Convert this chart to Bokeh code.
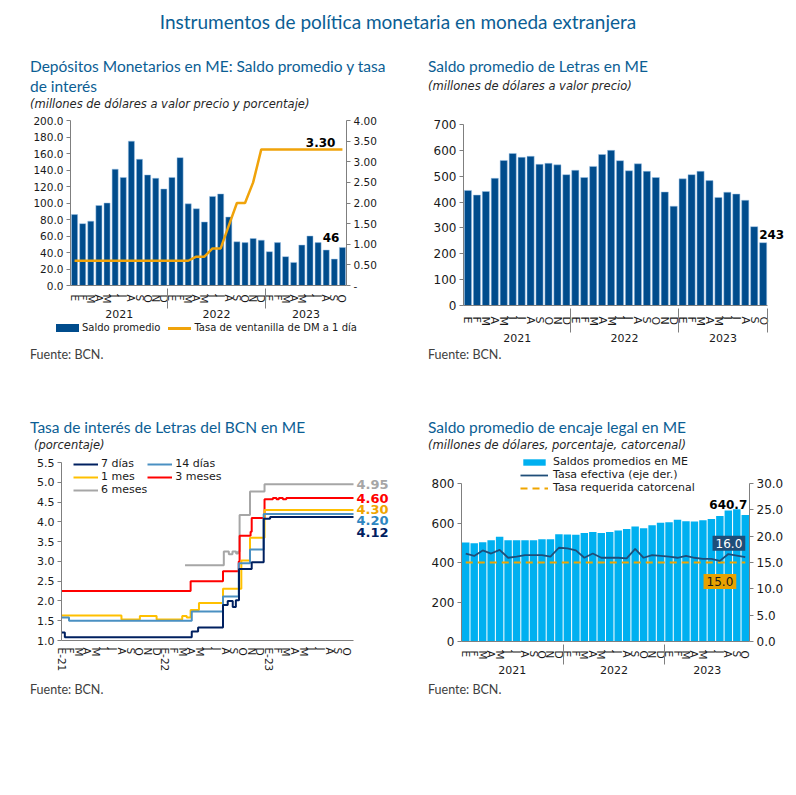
import pandas as pd
from bokeh.plotting import figure
from bokeh.models import (FactorRange, Range1d, LinearAxis, FixedTicker, Legend,
                          LegendItem, LabelSet, Div, ColumnDataSource, NumeralTickFormatter)
from bokeh.layouts import column, row
from bokeh.embed import file_html
from bokeh.resources import INLINE
from bokeh.core.properties import value

# ---------------- data ----------------
years = ["2021", "2022", "2023"]
months_per_year = [12, 12, 10]
month_letters = ["E", "F", "M", "A", "M", "J", "J", "A", "S", "O", "N", "D"]

# Panel 1: Depósitos monetarios en ME
saldo_dm = [86, 75, 78, 97, 100, 141, 131, 175, 153, 134, 130, 117,
            131, 155, 99, 93, 77, 108, 111, 83, 53, 52, 57, 55,
            41, 52, 35, 28, 49, 60, 52, 43, 32, 46]
tasa_ventanilla = [0.60, 0.60, 0.60, 0.60, 0.60, 0.60, 0.60, 0.60, 0.60, 0.60, 0.60, 0.60,
                   0.60, 0.60, 0.60, 0.70, 0.70, 0.90, 0.90, 1.45, 2.00, 2.00, 2.50, 3.30,
                   3.30, 3.30, 3.30, 3.30, 3.30, 3.30, 3.30, 3.30, 3.30, 3.30]
p1_left_ticks = [0, 20, 40, 60, 80, 100, 120, 140, 160, 180, 200]
p1_right_ticks = [0, 0.5, 1.0, 1.5, 2.0, 2.5, 3.0, 3.5, 4.0]
p1_legend_labels = ["Saldo promedio", "Tasa de ventanilla de DM a 1 día"]

# Panel 2: Saldo promedio de Letras en ME
letras = [445, 427, 441, 492, 561, 588, 573, 577, 546, 550, 544, 506,
          523, 495, 538, 584, 600, 560, 521, 548, 519, 495, 439, 384,
          490, 506, 519, 483, 418, 438, 431, 407, 305, 243]
p2_ticks = [0, 100, 200, 300, 400, 500, 600, 700]

# Panel 3: Tasa de interés de Letras (step series: change dates and values)
d7_dates = ["2021-01-01", "2021-01-13", "2022-04-03", "2022-04-25", "2022-07-22", "2022-08-08",
            "2022-08-26", "2022-09-06", "2022-09-17", "2022-11-01", "2022-12-13", "2023-01-05"]
d7_vals = [1.20, 1.08, 1.23, 1.33, 1.90, 2.00, 1.85, 2.02, 2.81, 2.98, 4.08, 4.12]
d14_dates = ["2021-01-01", "2021-01-28", "2022-04-03", "2022-07-22", "2022-09-16",
             "2022-10-26", "2022-12-13"]
d14_vals = [1.58, 1.50, 1.73, 2.11, 2.95, 3.30, 4.20]
m1_dates = ["2021-01-01", "2021-07-30", "2021-10-03", "2021-12-01", "2022-02-28", "2022-03-16",
            "2022-03-30", "2022-04-28", "2022-07-22", "2022-09-25", "2022-10-26", "2022-12-16"]
m1_vals = [1.63, 1.53, 1.62, 1.53, 1.62, 1.58, 1.77, 1.95, 2.31, 3.02, 3.60, 4.30]
m3_dates = ["2021-01-01", "2022-03-30", "2022-07-22", "2022-09-16", "2022-09-19", "2022-10-28",
            "2022-11-01", "2022-12-16", "2023-01-15", "2023-01-28", "2023-02-05", "2023-02-18",
            "2023-03-01"]
m3_vals = [2.25, 2.50, 2.75, 3.00, 3.65, 3.75, 4.10, 4.57, 4.60, 4.57, 4.60, 4.57, 4.60]
m6_dates = ["2022-03-10", "2022-07-25", "2022-08-12", "2022-08-25", "2022-09-07", "2022-09-14",
            "2022-09-19", "2022-10-26", "2022-12-16"]
m6_vals = [2.90, 3.25, 3.18, 3.25, 3.20, 3.25, 4.17, 4.77, 4.95]
p3_end_date = "2023-10-25"
p3_tick_labels = ["E-21", "F", "M", "A", "M", "J", "J", "A", "S", "O", "N", "D",
                  "E-22", "F", "M", "A", "M", "J", "J", "A", "S", "O", "N", "D",
                  "E-23", "F", "M", "A", "M", "J", "J", "A", "S", "O"]
p3_ticks = [1.0, 1.5, 2.0, 2.5, 3.0, 3.5, 4.0, 4.5, 5.0, 5.5]
p3_last_labels = ["4.95", "4.60", "4.30", "4.20", "4.12"]

# Panel 4: Encaje legal
encaje = [501, 498, 503, 513, 530, 513, 513, 513, 513, 518, 518, 543,
          542, 540, 549, 555, 549, 555, 562, 570, 582, 574, 589, 601,
          604, 616, 609, 608, 614, 620, 636, 663, 670, 640.7]
tasa_efectiva = [16.7, 16.25, 17.3, 16.7, 17.4, 15.9, 16.1, 16.4, 16.4, 16.4, 16.1, 17.8,
                 17.7, 17.3, 15.9, 16.7, 15.9, 15.9, 15.9, 15.8, 17.6, 15.9, 16.4, 16.25,
                 16.1, 15.9, 16.25, 15.9, 15.7, 15.7, 15.3, 16.6, 16.3, 16.0]
tasa_requerida = [15.0, 15.0, 15.0, 15.0, 15.0, 15.0, 15.0, 15.0, 15.0, 15.0, 15.0, 15.0,
                  15.0, 15.0, 15.0, 15.0, 15.0, 15.0, 15.0, 15.0, 15.0, 15.0, 15.0, 15.0,
                  15.0, 15.0, 15.0, 15.0, 15.0, 15.0, 15.0, 15.0, 15.0, 15.0]
p4_left_ticks = [0, 200, 400, 600, 800]
p4_right_ticks = [0, 5, 10, 15, 20, 25, 30]

# ---------------- styles ----------------
TITLE_C = "#0B5E94"
NAVY = "#004C8C"
GOLD = "#F0A30A"
AX = "#7F7F7F"
TXT = "#1A1A1A"
FONT = "DejaVu Sans"
ZW = "\u200b"

# unique nested factors (zero-width space keeps repeated month letters distinct)
factors = []
for y, n in zip(years, months_per_year):
    seen = {}
    for m in month_letters[:n]:
        k = seen.get(m, 0)
        seen[m] = k + 1
        factors.append((y, m + ZW * k))
n_months = len(factors)


def month_index(d):
    t = pd.Timestamp(d)
    return (t.year - 2021) * 12 + (t.month - 1) + (t.day - 1) / t.days_in_month


def base_fig(width, height, x_range, y_range, left, right, top, bottom):
    p = figure(width=width, height=height, x_range=x_range, y_range=y_range, title=None,
               toolbar_location=None, output_backend="svg",
               min_border_left=left, min_border_right=right,
               min_border_top=top, min_border_bottom=bottom,
               outline_line_color=None, background_fill_color="white", margin=(0, 0, 0, 0))
    p.xgrid.grid_line_color = None
    p.ygrid.grid_line_color = None
    return p


def style_axis(ax, size="11px"):
    ax.axis_line_color = AX
    ax.major_tick_line_color = AX
    ax.minor_tick_line_color = None
    ax.major_tick_out = 4
    ax.major_tick_in = 0
    ax.major_label_standoff = 3
    ax.major_label_text_font = FONT
    ax.major_label_text_font_size = size
    ax.major_label_text_color = TXT


def style_cat_axis(ax, size="10.5px", standoff=3):
    ax.axis_line_color = AX
    ax.major_tick_line_color = None
    ax.minor_tick_line_color = None
    ax.major_label_orientation = "vertical"
    ax.major_label_text_font = FONT
    ax.major_label_text_font_size = size
    ax.major_label_text_color = TXT
    ax.major_label_standoff = standoff
    ax.group_text_font = FONT
    ax.group_text_font_size = "11px"
    ax.group_text_font_style = "normal"
    ax.group_text_color = TXT
    ax.group_label_orientation = "horizontal"
    ax.separator_line_color = AX
    ax.separator_line_width = 1


def title_div(lines, sub, height, pad_top, pad_left, sub_indent=0, sub_gap=0):
    html = ('<div style="width:388px;padding-top:%dpx;padding-left:%dpx;">' % (pad_top, pad_left))
    for ln in lines:
        html += ('<div style="font-family:Lato;font-size:15.5px;line-height:20px;color:%s;'
                 'white-space:nowrap;">%s</div>' % (TITLE_C, ln))
    html += ('<div style="font-family:\'DejaVu Sans\';font-style:italic;font-size:11.5px;'
             'line-height:16px;color:#262626;white-space:nowrap;padding-left:%dpx;'
             'margin-top:%dpx;">%s</div></div>' % (sub_indent, sub_gap, sub))
    return Div(text=html, width=390, height=height, margin=(0, 0, 0, 0))


def source_div(height, pad_top, pad_left):
    html = ('<div style="padding-top:%dpx;padding-left:%dpx;font-family:Lato;font-size:12.5px;'
            'line-height:16px;color:#404040;">Fuente: BCN.</div>' % (pad_top, pad_left))
    return Div(text=html, width=390, height=height, margin=(0, 0, 0, 0))


def cat_range(extra=()):
    return FactorRange(factors=factors + list(extra), range_padding=0, group_padding=0,
                       factor_padding=0)


# ---------------- Panel 1 ----------------
p1 = base_fig(390, 208, cat_range(), Range1d(0, 200), 62, 52, 8, 35)
p1.extra_y_ranges = {"rate": Range1d(0, 4)}
p1.vbar(x=factors, top=saldo_dm, width=0.75, fill_color=NAVY, line_color="#9DC3E6",
        line_width=0.5)
p1.line(x=factors, y=tasa_ventanilla, y_range_name="rate", line_color=GOLD, line_width=2.5)
style_cat_axis(p1.xaxis[0], "10.5px", 3)
style_axis(p1.yaxis[0], "10.5px")
p1.yaxis[0].ticker = FixedTicker(ticks=p1_left_ticks)
p1.yaxis[0].formatter = NumeralTickFormatter(format="0.0")
r1 = LinearAxis(y_range_name="rate", ticker=FixedTicker(ticks=p1_right_ticks),
                formatter=NumeralTickFormatter(format="0.00"), major_label_overrides={0: "-"})
style_axis(r1, "10.5px")
p1.add_layout(r1, "right")
lab1 = ColumnDataSource(dict(x=[factors[-1]], y=[saldo_dm[-1]], t=[str(saldo_dm[-1])]))
p1.add_layout(LabelSet(x="x", y="y", text="t", source=lab1, text_align="right", x_offset=-3,
                       y_offset=6, text_baseline="bottom", text_font=value(FONT),
                       text_font_style="bold", text_font_size="12px", text_color="black"))
lab1b = ColumnDataSource(dict(x=[factors[-1]], y=[tasa_ventanilla[-1]],
                              t=["%.2f" % tasa_ventanilla[-1]]))
p1.add_layout(LabelSet(x="x", y="y", y_range_name="rate", text="t", source=lab1b,
                       text_align="right", x_offset=-7, y_offset=2, text_baseline="bottom",
                       text_font=value(FONT), text_font_style="bold", text_font_size="12px",
                       text_color="black"))

legend1 = Div(text=(
    '<div style="display:flex;align-items:center;padding-left:48px;padding-top:2px;'
    'font-family:\'DejaVu Sans\';font-size:10px;line-height:12px;color:%s;white-space:nowrap;">'
    '<span style="display:inline-block;width:23px;height:8px;background:%s;margin-right:3px;">'
    '</span><span>%s</span>'
    '<span style="display:inline-block;width:23px;height:3px;background:%s;'
    'margin:0 3px 0 8px;"></span><span>%s</span></div>'
    % (TXT, NAVY, p1_legend_labels[0], GOLD, p1_legend_labels[1])),
    width=390, height=16, margin=(0, 0, 0, 0))

cell1 = column(title_div(["Depósitos Monetarios en ME: Saldo promedio y tasa", "de interés"],
                         "(millones de dólares a valor precio y porcentaje)", 64, 8, 22),
               p1, legend1, source_div(69, 11, 22), spacing=0)

# ---------------- Panel 2 ----------------
p2_pad = [(ZW, ZW), (ZW, ZW + ZW)]
p2 = base_fig(390, 229, cat_range(p2_pad), Range1d(0, 700), 65, 3, 6, 42)
p2.vbar(x=factors, top=letras, width=0.8, fill_color=NAVY, line_color="#9DC3E6", line_width=0.5)
style_cat_axis(p2.xaxis[0], "11px", 5)
p2.xaxis[0].bounds = (0, n_months + 0.001)
style_axis(p2.yaxis[0], "12px")
p2.yaxis[0].ticker = FixedTicker(ticks=p2_ticks)
p2.yaxis[0].formatter = NumeralTickFormatter(format="0")
lab2 = ColumnDataSource(dict(x=[factors[-1]], y=[letras[-1]], t=[str(letras[-1])]))
p2.add_layout(LabelSet(x="x", y="y", text="t", source=lab2, text_align="left", x_offset=-4,
                       y_offset=4, text_baseline="bottom", text_font=value(FONT),
                       text_font_style="bold", text_font_size="12px", text_color="black"))
cell2 = column(title_div(["Saldo promedio de Letras en ME"], "(millones de dólares a valor precio)",
                         70, 8, 30, 0, 2),
               p2, source_div(58, 0, 30), spacing=0)

# ---------------- Panel 3 ----------------
p3_end = month_index(p3_end_date)
p3_view_end = p3_end * 332.0 / 292.0       # frame extends right so end labels are not clipped
p3_view_top = 1.0 + 4.5 * 187.0 / 178.0     # frame extends up so the legend is not clipped
p3 = base_fig(390, 222, Range1d(0, p3_view_end), Range1d(1.0, p3_view_top), 53, 5, 0, 35)
series3 = [("7 días", d7_dates, d7_vals, "#002060"),
           ("14 días", d14_dates, d14_vals, "#4A90C2"),
           ("1 mes", m1_dates, m1_vals, "#FFC000"),
           ("3 meses", m3_dates, m3_vals, "#FF0000"),
           ("6 meses", m6_dates, m6_vals, "#A6A6A6")]
rend3 = {}
for name, dts, vals, col in reversed(series3):
    xs = [month_index(d) for d in dts] + [p3_end]
    ys = list(vals) + [vals[-1]]
    rend3[name] = p3.step(x=xs, y=ys, mode="after", line_color=col, line_width=2)
style_axis(p3.yaxis[0], "11px")
p3.yaxis[0].ticker = FixedTicker(ticks=p3_ticks)
p3.yaxis[0].formatter = NumeralTickFormatter(format="0.0")
p3.yaxis[0].bounds = (1.0, 5.5)
xa3 = p3.xaxis[0]
style_axis(xa3, "10.5px")
xa3.bounds = (0, p3_end)
xa3.ticker = FixedTicker(ticks=list(range(len(p3_tick_labels))))
xa3.major_label_overrides = {i: t for i, t in enumerate(p3_tick_labels)}
xa3.major_label_orientation = "vertical"
xa3.major_tick_line_color = None
xa3.major_label_standoff = 3
legend_order = ["7 días", "1 mes", "6 meses", "14 días", "3 meses"]
leg3 = Legend(items=[LegendItem(label=n, renderers=[rend3[n]]) for n in legend_order],
              location=(12, 144), ncols=2, border_line_color=None, background_fill_alpha=0,
              label_text_font=FONT, label_text_font_size="11px", label_text_color=TXT,
              glyph_width=25, glyph_height=10, label_height=13, label_width=46,
              padding=1, spacing=0, margin=0, label_standoff=3)
p3.add_layout(leg3, "center")
lab3 = ColumnDataSource(dict(x=[p3_end] * 5,
                             y=[m6_vals[-1], m3_vals[-1], m1_vals[-1], d14_vals[-1], d7_vals[-1]],
                             t=p3_last_labels, yo=[0, 0, 0, -7, -15],
                             c=["#A6A6A6", "#FF0000", "#F0A500", "#2E86C1", "#002060"]))
p3.add_layout(LabelSet(x="x", y="y", text="t", source=lab3, x_offset=3, y_offset="yo",
                       text_align="left", text_baseline="middle", text_font=value(FONT),
                       text_font_style="bold", text_font_size="13px", text_color="c"))
cell3 = column(title_div(["Tasa de interés de Letras del BCN en ME"], "(porcentaje)",
                         48, 12, 22, 4),
               p3, source_div(30, 7, 22), spacing=0)

# ---------------- Panel 4 ----------------
p4_k = 186.0 / 158.0   # frame extends above the axis top to hold the legend
p4 = base_fig(390, 224, cat_range(), Range1d(0, 800 * p4_k), 63, 39, 2, 36)
p4.extra_y_ranges = {"rate": Range1d(0, 30 * p4_k)}
bars4 = p4.vbar(x=factors, top=encaje, width=0.88, fill_color="#00B0F0", line_color=None)
req4 = p4.line(x=factors, y=tasa_requerida, y_range_name="rate", line_color="#F0A500",
               line_width=2, line_dash="7 5")
ef4 = p4.line(x=factors, y=tasa_efectiva, y_range_name="rate", line_color="#1F4E79",
              line_width=1.8)
style_cat_axis(p4.xaxis[0], "10.5px", 3)
style_axis(p4.yaxis[0], "12px")
p4.yaxis[0].ticker = FixedTicker(ticks=p4_left_ticks)
p4.yaxis[0].formatter = NumeralTickFormatter(format="0")
p4.yaxis[0].bounds = (0, 800)
r4 = LinearAxis(y_range_name="rate", ticker=FixedTicker(ticks=p4_right_ticks),
                formatter=NumeralTickFormatter(format="0.0"), bounds=(0, 30))
style_axis(r4, "12px")
p4.add_layout(r4, "right")
lab4 = ColumnDataSource(dict(x=[factors[-1]], y=[encaje[-1]], t=["%.1f" % encaje[-1]]))
p4.add_layout(LabelSet(x="x", y="y", text="t", source=lab4, text_align="right", x_offset=2,
                       y_offset=6, text_baseline="bottom", text_font=value(FONT),
                       text_font_style="bold", text_font_size="12px", text_color="black"))
p4.text(x=[factors[-1]], y=[tasa_efectiva[-1]], text=["%.1f" % tasa_efectiva[-1]],
        y_range_name="rate", text_align="right", text_baseline="middle", x_offset=0, y_offset=-14,
        text_font=value(FONT), text_font_size=value("12px"), text_color="white",
        background_fill_color="#1F4E79", padding=3)
p4.text(x=[factors[-1]], y=[tasa_requerida[-1]], text=["%.1f" % tasa_requerida[-1]],
        y_range_name="rate", text_align="right", text_baseline="middle", x_offset=-9, y_offset=19,
        text_font=value(FONT), text_font_size=value("12px"), text_color="#1A1A1A",
        background_fill_color="#E8A200", padding=3)
leg4 = Legend(items=[LegendItem(label="Saldos promedios en ME", renderers=[bars4]),
                     LegendItem(label="Tasa efectiva (eje der.)", renderers=[ef4]),
                     LegendItem(label="Tasa requerida catorcenal", renderers=[req4])],
              location=(59, 147), border_line_color=None, background_fill_alpha=0,
              label_text_font=FONT, label_text_font_size="11px", label_text_color=TXT,
              glyph_width=28, glyph_height=8, label_height=13, padding=0, spacing=0, margin=0,
              label_standoff=5)
p4.add_layout(leg4, "center")
cell4 = column(title_div(["Saldo promedio de encaje legal en ME"],
                         "(millones de dólares, porcentaje, catorcenal)", 48, 12, 30),
               p4, source_div(28, 5, 30), spacing=0)

# ---------------- layout ----------------
header = Div(text='<div style="width:780px;text-align:center;font-family:Lato;font-size:19px;'
                  'line-height:24px;color:#0B5E94;padding-top:10px;">Instrumentos de política '
                  'monetaria en moneda extranjera</div>', width=780, height=48, margin=(0, 0, 0, 0))
layout = column(header, row(cell1, cell2, spacing=0), row(cell3, cell4, spacing=0),
                spacing=0, margin=(0, 0, 0, 8))

open("out.html", "w").write(file_html(layout, INLINE))
